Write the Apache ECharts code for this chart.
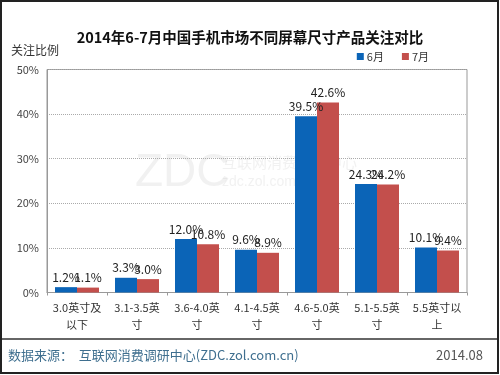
<!DOCTYPE html>
<html>
<head>
<meta charset="utf-8">
<script src="https://cdn.jsdelivr.net/npm/echarts@6/dist/echarts.min.js"></script>
<style>html,body{margin:0;padding:0;background:#fff;}#c{width:500px;height:375px;}</style>
</head>
<body>
<div id="c"></div>
<script>
const categories = ["3.0英寸及\n以下", "3.1-3.5英\n寸", "3.6-4.0英\n寸", "4.1-4.5英\n寸", "4.6-5.0英\n寸", "5.1-5.5英\n寸", "5.5英寸以\n上"];
const june = [1.2, 3.3, 12.0, 9.6, 39.5, 24.3, 10.1];
const july = [1.1, 3.0, 10.8, 8.9, 42.6, 24.2, 9.4];
const seriesNames = ["6月", "7月"];
const yTicks = [0, 10, 20, 30, 40, 50];

const FONT = '"Noto Sans CJK SC", "Noto Sans", sans-serif';
const chart = echarts.init(document.getElementById('c'), null, {renderer: 'canvas'});
const labelCfg = {
  show: true, position: 'top', distance: 4,
  formatter: p => p.value.toFixed(1) + '%',
  fontSize: 12, color: '#222', fontFamily: FONT
};
chart.setOption({
  animation: false,
  backgroundColor: '#fff',
  title: {
    text: '2014年6-7月中国手机市场不同屏幕尺寸产品关注对比',
    left: 'center', top: 25,
    textStyle: {fontSize: 14.5, fontWeight: 'bold', color: '#111', fontFamily: FONT}
  },
  legend: {
    data: seriesNames, right: 66, top: 46, itemWidth: 7, itemHeight: 7, itemGap: 18,
    icon: 'rect',
    textStyle: {fontSize: 11, color: '#333', fontFamily: FONT, padding: [0,0,0,-2]}
  },
  grid: {left: 47, right: 33, top: 69.5, bottom: 82.5, show: true, borderColor: '#999', borderWidth: 1},
  xAxis: {
    type: 'category', data: categories,
    axisLine: {lineStyle: {color: '#999'}},
    axisTick: {show: true, length: 3, lineStyle: {color: '#999'}},
    axisLabel: {fontSize: 11, color: '#333', fontFamily: FONT, lineHeight: 17, margin: 7, interval: 0}
  },
  yAxis: {
    type: 'value', min: yTicks[0], max: yTicks[yTicks.length-1], interval: 10,
    name: '关注比例', nameLocation: 'end', nameGap: 13,
    nameTextStyle: {fontSize: 12, color: '#333', fontFamily: FONT, align: 'left', padding: [0,0,0,-36]},
    axisLine: {show: true, lineStyle: {color: '#999'}},
    axisTick: {show: false},
    axisLabel: {formatter: '{value}%', fontSize: 11, color: '#444', fontFamily: FONT, margin: 8},
    splitLine: {lineStyle: {color: '#aaa', type: [1, 1]}}
  },
  series: [
    {name: seriesNames[0], type: 'bar', data: june, barWidth: 22, barGap: '0%', itemStyle: {color: '#0b64b7'}, label: labelCfg},
    {name: seriesNames[1], type: 'bar', data: july, barWidth: 22, barGap: '0%', itemStyle: {color: '#c34f4c'}, label: labelCfg}
  ],
  graphic: [
    {type: 'rect', shape: {x: 1, y: 1, width: 497, height: 372}, style: {fill: 'none', stroke: '#222', lineWidth: 2}, z: 100},
    {type: 'line', shape: {x1: 2, y1: 339, x2: 498, y2: 339}, style: {stroke: '#333', lineWidth: 1.5}},
    {type: 'text', left: 8, top: 349, style: {text: '数据来源：  互联网消费调研中心(ZDC.zol.com.cn)', fontSize: 13, fill: '#3f6f8f', fontFamily: FONT}},
    {type: 'text', right: 17, top: 349, style: {text: '2014.08', fontSize: 13, fill: '#555', fontFamily: FONT}},
    {type: 'text', left: 135, top: 150, z: -1, style: {text: 'ZDC', fontSize: 46, fill: 'rgba(200,200,200,0.25)', fontFamily: 'sans-serif'}},
    {type: 'text', left: 222, top: 155, z: -1, style: {text: '互联网消费调研中心', fontSize: 15, fill: 'rgba(200,200,200,0.25)', fontFamily: FONT}},
    {type: 'text', left: 222, top: 175, z: -1, style: {text: 'zdc.zol.com.cn', fontSize: 14, fill: 'rgba(200,200,200,0.25)', fontFamily: 'sans-serif'}}
  ]
});
</script>
</body>
</html>
